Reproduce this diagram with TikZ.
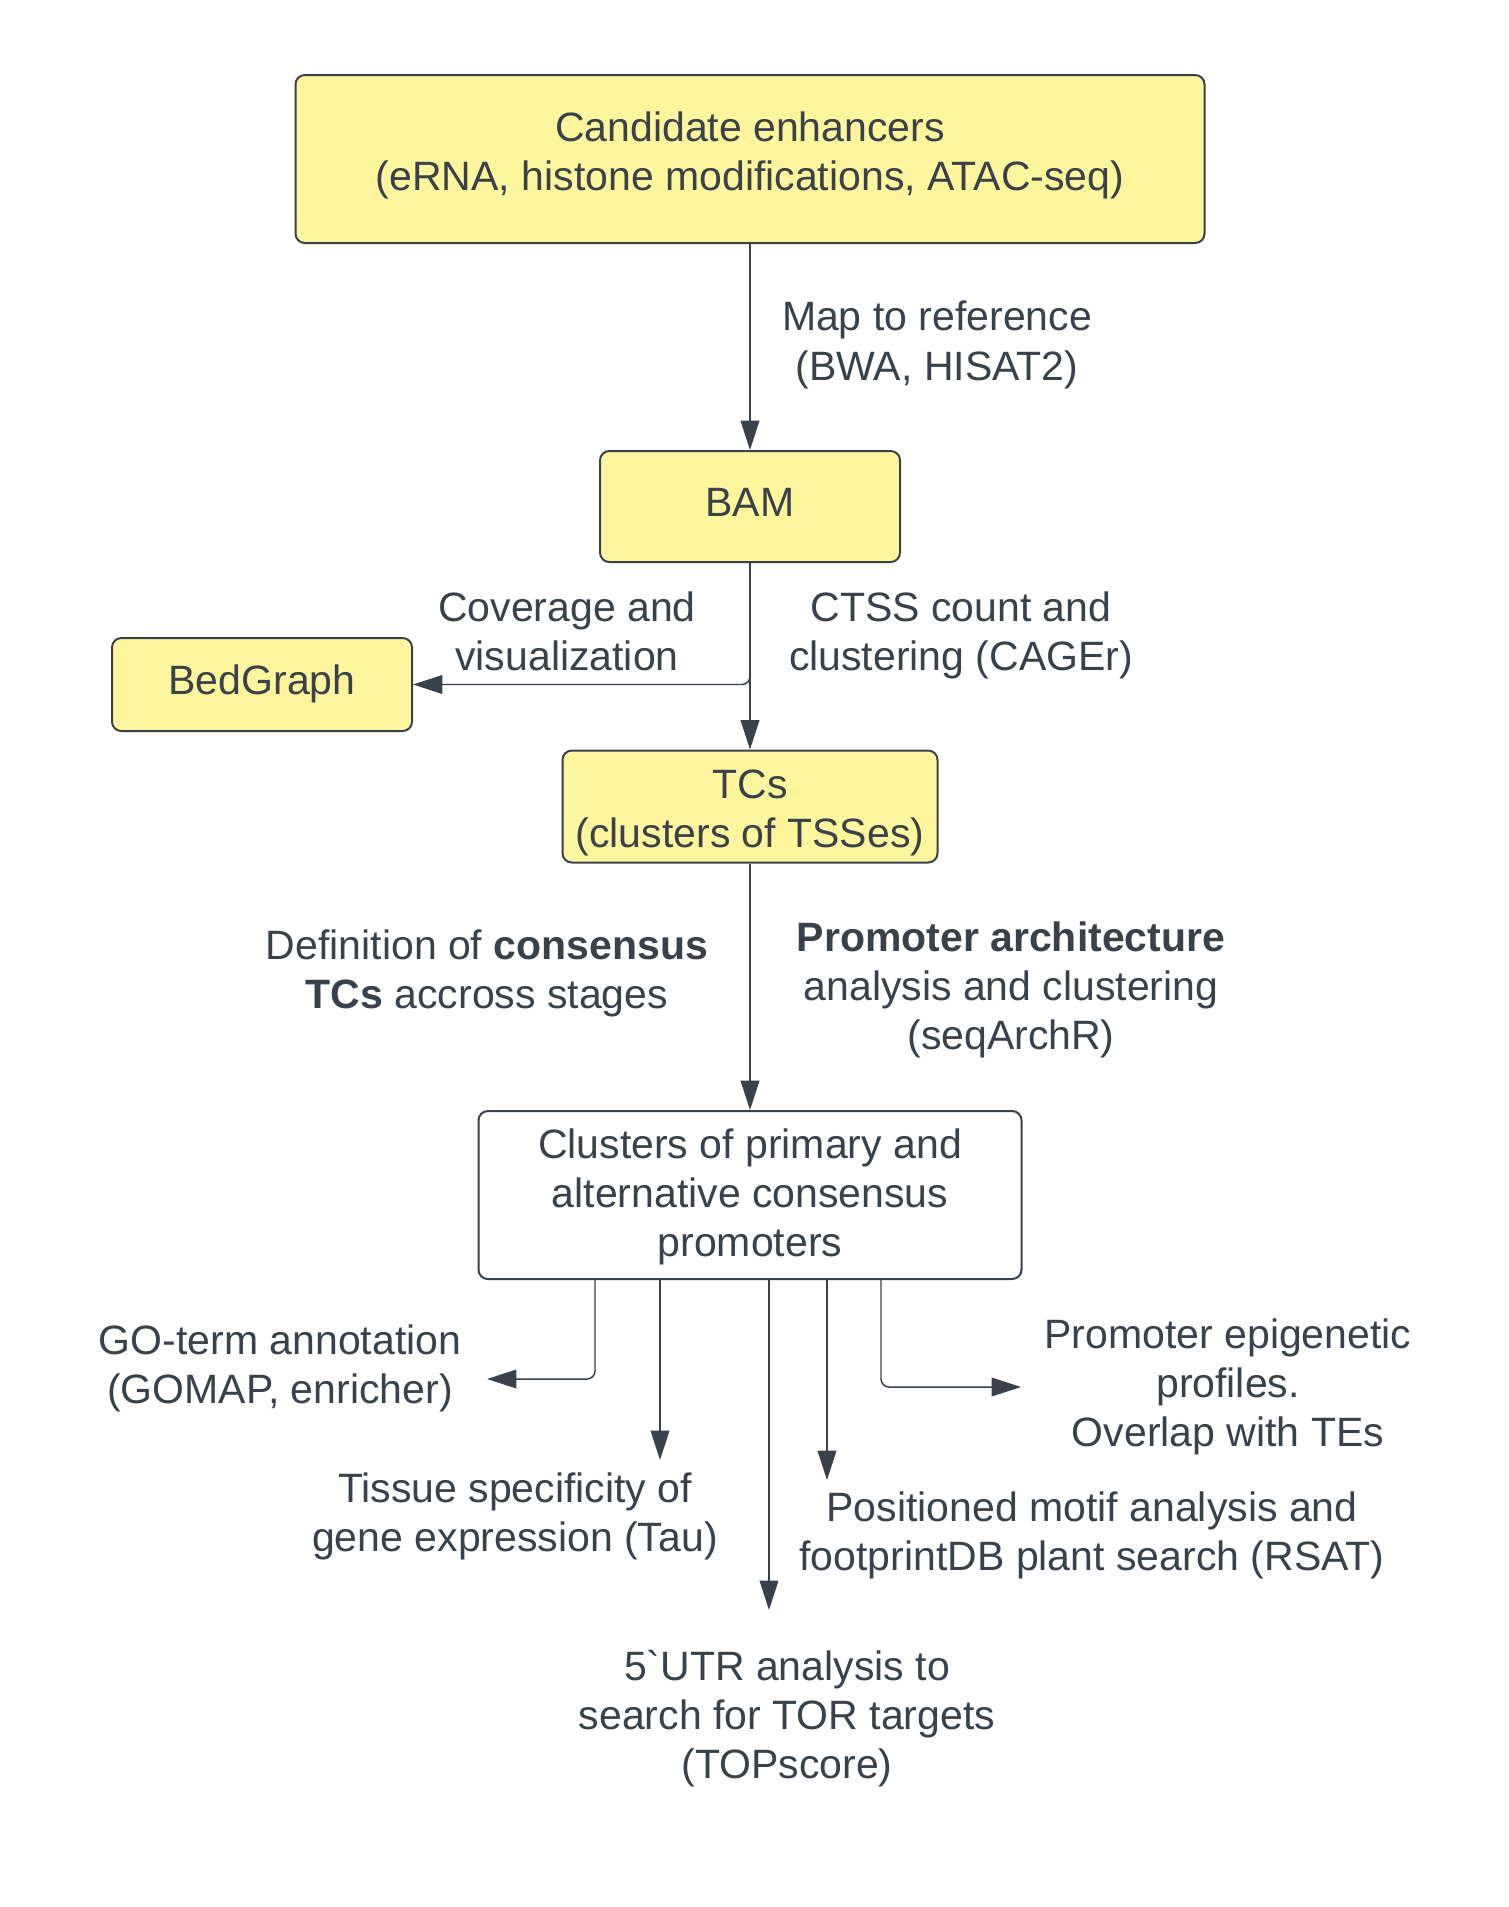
\documentclass[tikz,border=0pt]{standalone}
\usepackage{fontspec}
\setmainfont{Liberation Sans}
\newfontfamily\gravefont[Ligatures=TeXOff]{Liberation Sans}
\usetikzlibrary{arrows.meta}
\definecolor{ink}{HTML}{3A414A}
\definecolor{boxfill}{HTML}{FFF59D}
\newcommand{\ml}[1]{\begin{tabular}{@{}c@{}}#1\end{tabular}}
\begin{document}
\begin{tikzpicture}[x=0.75pt,y=-0.75pt,
  txt/.style={text=ink, inner sep=0pt, anchor=north, font=\fontsize{30.75pt}{36.975pt}\selectfont},
  box/.style={draw=ink, line width=1.5pt, rounded corners=7pt, fill=boxfill, inner sep=0pt},
  wbox/.style={box, fill=white},
  arr/.style={draw=ink, line width=1.1pt, -{Triangle[length=22pt,width=14pt]}},
  elbow/.style={rounded corners=6pt}]
\useasboundingbox (0,0) rectangle (1509,1907);
\fill[white] (0,0) rectangle (1509,1907);
% boxes
\node[box, minimum width=681.75pt, minimum height=126pt] (top) at (750,159) {};
\node[box, minimum width=225pt, minimum height=83.25pt] (bam) at (750,506.5) {};
\node[box, minimum width=225pt, minimum height=69.75pt] (bed) at (262,684.5) {};
\node[box, minimum width=281.25pt, minimum height=84pt] (tcs) at (750,806.5) {};
\node[wbox, minimum width=407.25pt, minimum height=126pt] (cl) at (750,1195) {};
% box texts (north = first baseline - 34.5)
\node[txt] (toptxt) at (750,106.5) {\ml{Candidate enhancers\\(eRNA, histone modifications, ATAC-seq)}};
\node[txt] (bamtxt) at (750,481.5) {\ml{BAM}};
\node[txt] (bedtxt) at (262,659.5) {\ml{BedGraph}};
\node[txt] (tcstxt) at (750,763.5) {\ml{TCs\\(clusters of TSSes)}};
\node[txt] (cltxt) at (750,1123.5) {\ml{Clusters of primary and\\alternative consensus\\promoters}};
% labels
\node[txt] (lmap) at (937,296.2) {\ml{Map to reference\\(BWA, HISAT2)}};
\node[txt] (lcov) at (567,586.5) {\ml{Coverage and\\visualization}};
\node[txt] (lctss) at (961,586.5) {\ml{CTSS count and\\clustering (CAGEr)}};
\node[txt] (ldef) at (487,924.5) {\ml{Definition of \textbf{consensus}\\\textbf{TCs} accross stages}};
\node[txt] (larch) at (1011,916.5) {\ml{\textbf{Promoter architecture}\\analysis and clustering\\(seqArchR)}};
\node[txt] (lgo) at (280,1319.5) {\ml{GO-term annotation\\(GOMAP, enricher)}};
\node[txt] (ltau) at (515,1467.5) {\ml{Tissue specificity of\\gene expression (Tau)}};
\node[txt] (lutr) at (787,1645.5) {\ml{5{\gravefont`}UTR analysis to\\search for TOR targets\\(TOPscore)}};
\node[txt] (lmot) at (1092,1486.5) {\ml{Positioned motif analysis and\\footprintDB plant search (RSAT)}};
\node[txt] (lepi) at (1228,1313.5) {\ml{Promoter epigenetic\\profiles.\\Overlap with TEs}};
% connector end points
\coordinate (goX) at (595,0);
\coordinate (goT) at (487,1379);
\coordinate (tauT) at (660,1460);
\coordinate (utrT) at (769,1610);
\coordinate (motT) at (827,1480);
\coordinate (epX) at (881,0);
\coordinate (epT) at (1021,1387);
% connectors
\draw[arr] (top) -- (bam);
\draw[arr] (bam) -- (tcs);
\draw[arr, elbow] (bam.south) |- (bed.east);
\draw[arr] (tcs) -- (cl);
\draw[arr, elbow] (cl.south -| goX) |- (goT);
\draw[arr] (cl.south -| tauT) -- (tauT);
\draw[arr] (cl.south -| utrT) -- (utrT);
\draw[arr] (cl.south -| motT) -- (motT);
\draw[arr, elbow] (cl.south -| epX) |- (epT);
\end{tikzpicture}
\end{document}
